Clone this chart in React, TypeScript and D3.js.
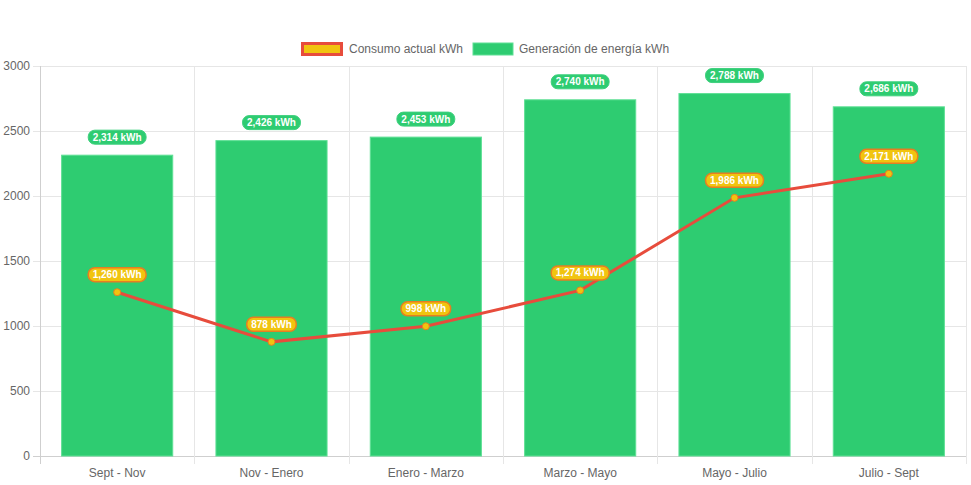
import React, { useEffect, useRef } from "react";
import * as d3 from "d3";

const categories = ["Sept - Nov", "Nov - Enero", "Enero - Marzo", "Marzo - Mayo", "Mayo - Julio", "Julio - Sept"];
const generacion = [2314, 2426, 2453, 2740, 2788, 2686];
const consumo = [1260, 878, 998, 1274, 1986, 2171];
const yTicks = [0, 500, 1000, 1500, 2000, 2500, 3000];
const legendLabels = ["Consumo actual kWh", "Generación de energía kWh"];

const W = 971;
const H = 485;
const FONT = "'Liberation Sans', Arial, Helvetica, sans-serif";

export default function App() {
  const ref = useRef<SVGSVGElement>(null);

  useEffect(() => {
    const svg = d3.select(ref.current);
    svg.selectAll("*").remove();

    const left = 40, right = 966, top = 66, bottom = 456;
    const x = d3.scaleBand<string>().domain(categories).range([left, right]).paddingInner(0).paddingOuter(0);
    const y = d3.scaleLinear().domain([0, 3000]).range([bottom, top]);
    const bw = x.bandwidth() * 0.72;
    const cx = (c: string) => (x(c) as number) + x.bandwidth() / 2;

    // grid
    const g = svg.append("g");
    yTicks.forEach((t) => {
      g.append("line").attr("x1", left - 7).attr("x2", right).attr("y1", Math.round(y(t)) + 0.5).attr("y2", Math.round(y(t)) + 0.5)
        .attr("stroke", t === 0 ? "#cfcfcf" : "#e6e6e6").attr("stroke-width", 1);
      g.append("text").attr("x", left - 10).attr("y", y(t)).attr("dy", "0.35em").attr("text-anchor", "end")
        .attr("font-family", FONT).attr("font-size", 12).attr("fill", "#666").text(String(t));
    });
    const vx = categories.map((c) => x(c) as number).concat([right]);
    vx.forEach((v, i) => {
      g.append("line").attr("x1", Math.round(v) + 0.5).attr("x2", Math.round(v) + 0.5).attr("y1", top).attr("y2", bottom + 8)
        .attr("stroke", i === 0 ? "#cfcfcf" : "#e6e6e6").attr("stroke-width", 1);
    });
    categories.forEach((c) => {
      g.append("text").attr("x", cx(c)).attr("y", 473).attr("dy", "0.35em").attr("text-anchor", "middle")
        .attr("font-family", FONT).attr("font-size", 12).attr("fill", "#666").text(c);
    });

    // bars
    svg.append("g").selectAll("rect").data(generacion).join("rect")
      .attr("x", (_, i) => cx(categories[i]) - bw / 2).attr("width", bw)
      .attr("y", (d) => y(d)).attr("height", (d) => bottom - y(d))
      .attr("fill", "#2ecc71").attr("stroke", "#5fe095").attr("stroke-width", 1);

    // line
    const line = d3.line<number>().x((_, i) => cx(categories[i])).y((d) => y(d));
    svg.append("path").datum(consumo).attr("d", line).attr("fill", "none").attr("stroke", "#e74c3c").attr("stroke-width", 3);
    svg.append("g").selectAll("circle").data(consumo).join("circle")
      .attr("cx", (_, i) => cx(categories[i])).attr("cy", (d) => y(d)).attr("r", 3.5)
      .attr("fill", "#f1c40f").attr("stroke", "#e67e22").attr("stroke-width", 1);

    const fmt = d3.format(",");
    const label = (px: number, py: number, txt: string, bg: string, border: string, bwid: number) => {
      const lg = svg.append("g");
      const rect = lg.append("rect");
      const t = lg.append("text").attr("x", px).attr("y", py).attr("dy", "0.36em").attr("text-anchor", "middle")
        .attr("font-family", FONT).attr("font-size", 10).attr("font-weight", "bold").attr("fill", "#fff").text(txt);
      const w = (t.node() as SVGTextElement).getComputedTextLength() + 9;
      const h = 14;
      rect.attr("x", px - w / 2).attr("y", py - h / 2).attr("width", w).attr("height", h).attr("rx", 6.5).attr("ry", 6.5)
        .attr("fill", bg).attr("stroke", border).attr("stroke-width", bwid);
    };
    generacion.forEach((v, i) => label(cx(categories[i]), y(v) - 18, fmt(v) + " kWh", "#2ecc71", "#3ed07e", 1));
    consumo.forEach((v, i) => label(cx(categories[i]), y(v) - 17.5, fmt(v) + " kWh", "#f1c40f", "#e67e22", 1.5));

    // legend
    const lgd = svg.append("g");
    lgd.append("rect").attr("x", 302.5).attr("y", 43.5).attr("width", 39).attr("height", 11)
      .attr("fill", "#f1c40f").attr("stroke", "#e74c3c").attr("stroke-width", 3);
    lgd.append("text").attr("x", 349).attr("y", 49).attr("dy", "0.35em").attr("font-family", FONT).attr("font-size", 12)
      .attr("fill", "#666").text(legendLabels[0]);
    lgd.append("rect").attr("x", 473).attr("y", 43).attr("width", 40).attr("height", 12)
      .attr("fill", "#2ecc71").attr("stroke", "#5fe095").attr("stroke-width", 1);
    lgd.append("text").attr("x", 519).attr("y", 49).attr("dy", "0.35em").attr("font-family", FONT).attr("font-size", 12)
      .attr("fill", "#666").text(legendLabels[1]);
  }, []);

  return (
    <svg ref={ref} width={W} height={H} style={{ position: "absolute", left: 0, top: 0, background: "#fff" }} />
  );
}
